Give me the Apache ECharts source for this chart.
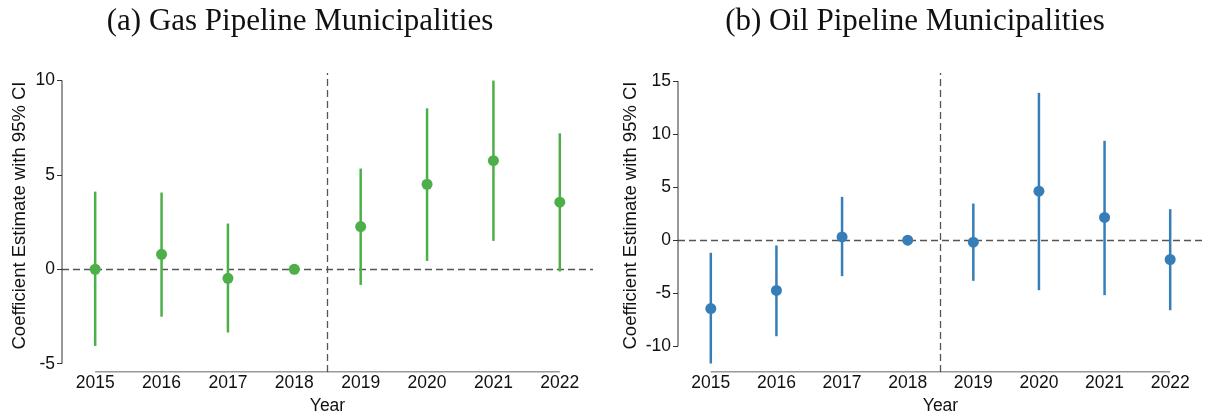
<!DOCTYPE html>
<html>
<head>
<meta charset="utf-8">
<script src="https://cdn.jsdelivr.net/npm/echarts@6/dist/echarts.min.js"></script>
<style>
  html, body { margin: 0; padding: 0; background: #fff; }
  #main { width: 1208px; height: 416px; }
</style>
</head>
<body>
<div id="main"></div>
<script>
// 年份与刻度
const years = [2015, 2016, 2017, 2018, 2019, 2020, 2021, 2022];
const gasTicks = [-5, 0, 5, 10];
const oilTicks = [-10, -5, 0, 5, 10, 15];

// 燃气管道：系数估计与95%置信区间
const gasEst = [0, 0.79, -0.48, 0, 2.26, 4.50, 5.75, 3.55];
const gasLow = [-4.06, -2.51, -3.35, null, -0.83, 0.44, 1.50, -0.12];
const gasHigh = [4.11, 4.06, 2.42, null, 5.33, 8.52, 9.99, 7.20];

// 石油管道
const oilEst = [-6.44, -4.74, 0.31, 0, -0.19, 4.62, 2.14, -1.82];
const oilLow = [-11.62, -9.05, -3.39, null, -3.83, -4.71, -5.18, -6.60];
const oilHigh = [-1.19, -0.50, 4.08, null, 3.45, 13.88, 9.36, 2.92];

const treatLine = 2018.5;

const chart = echarts.init(document.getElementById("main"));

const labelFont = { fontFamily: "Liberation Sans, Arial, sans-serif", fontSize: 17.5, color: "#111" };

// 单个面板的坐标轴
const makeAxes = (idx, ticks, yMin, yMax, nameGap) => {
	const xAxis = {
		type: "value",
		gridIndex: idx,
		min: years[0] - 0.5,
		max: years[years.length - 1] + 0.5,
		name: "Year",
		nameLocation: "middle",
		nameGap: 21,
		nameTextStyle: labelFont,
		axisLine: { show: false },
		axisTick: { show: false },
		splitLine: { show: false },
		axisLabel: Object.assign({
			customValues: years,
			margin: 2,
			formatter: (v) => String(v),
		}, labelFont),
	};
	const yAxis = {
		type: "value",
		gridIndex: idx,
		min: yMin,
		max: yMax,
		name: "Coefficient Estimate with 95% CI",
		nameLocation: "middle",
		nameGap: nameGap,
		// 名称稍微上移
		nameTextStyle: Object.assign({ padding: [0, 0, 0, 14] }, labelFont, { fontSize: 18.5 }),
		axisLine: { show: false },
		axisTick: { show: true, length: 5, customValues: ticks, lineStyle: { color: "#333" } },
		splitLine: { show: false },
		axisLabel: Object.assign({ customValues: ticks, margin: 7 }, labelFont),
	};
	return { xAxis, yAxis };
};

// 误差线、点、参考线与轴线
const makeSeries = (idx, est, low, high, ticks, yMin, color) => {
	const barData = years.map((y, i) => [y, low[i], high[i]]).filter((d) => d[1] !== null);
	const axisStyle = { color: "#333", width: 1 };
	return [
		{
			type: "custom",
			xAxisIndex: idx,
			yAxisIndex: idx,
			silent: true,
			data: barData,
			encode: { x: 0, y: [1, 2] },
			renderItem: (params, api) => {
				const p1 = api.coord([api.value(0), api.value(1)]);
				const p2 = api.coord([api.value(0), api.value(2)]);
				return {
					type: "line",
					shape: { x1: p1[0], y1: p1[1], x2: p2[0], y2: p2[1] },
					style: { stroke: color, lineWidth: 2.5 },
				};
			},
			z: 3,
		},
		{
			type: "scatter",
			xAxisIndex: idx,
			yAxisIndex: idx,
			data: years.map((y, i) => [y, est[i]]),
			symbolSize: 11,
			itemStyle: { color: color, opacity: 1 },
			z: 4,
			markLine: {
				silent: true,
				symbol: "none",
				label: { show: false },
				lineStyle: { color: "#555", type: [7, 4], width: 1.3 },
				data: [{ yAxis: 0 }, { xAxis: treatLine }],
				z: 2,
			},
		},
		{
			// 纵轴线：只画到刻度范围
			type: "line",
			xAxisIndex: idx,
			yAxisIndex: idx,
			silent: true,
			symbol: "none",
			lineStyle: axisStyle,
			data: [[years[0] - 0.5, ticks[0]], [years[0] - 0.5, ticks[ticks.length - 1]]],
		},
		{
			// 横轴线：只画到首尾年份
			type: "line",
			xAxisIndex: idx,
			yAxisIndex: idx,
			silent: true,
			symbol: "none",
			lineStyle: axisStyle,
			data: [[years[0], yMin], [years[years.length - 1], yMin]],
		},
	];
};

const gasMin = -5.44, gasMax = 10.39;
const oilMin = -12.42, oilMax = 15.75;

const gasAxes = makeAxes(0, gasTicks, gasMin, gasMax, 33);
const oilAxes = makeAxes(1, oilTicks, oilMin, oilMax, 38);

const titleFont = { fontFamily: "Liberation Serif, Times New Roman, serif", fontSize: 31, fontWeight: "normal", color: "#111" };

const option = {
	animation: false,
	backgroundColor: "#fff",
	title: [
		{ text: "(a) Gas Pipeline Municipalities", left: 295, top: 1, textAlign: "center", textStyle: titleFont },
		{ text: "(b) Oil Pipeline Municipalities", left: 910, top: 1, textAlign: "center", textStyle: titleFont },
	],
	grid: [
		{ left: 62, top: 73, width: 531, height: 299, outerBoundsMode: "none", containLabel: false },
		{ left: 678, top: 73, width: 525, height: 299, outerBoundsMode: "none", containLabel: false },
	],
	xAxis: [gasAxes.xAxis, oilAxes.xAxis],
	yAxis: [gasAxes.yAxis, oilAxes.yAxis],
	series: [
		...makeSeries(0, gasEst, gasLow, gasHigh, gasTicks, gasMin, "#4daf4a"),
		...makeSeries(1, oilEst, oilLow, oilHigh, oilTicks, oilMin, "#377eb8"),
	],
};

chart.setOption(option);
</script>
</body>
</html>
